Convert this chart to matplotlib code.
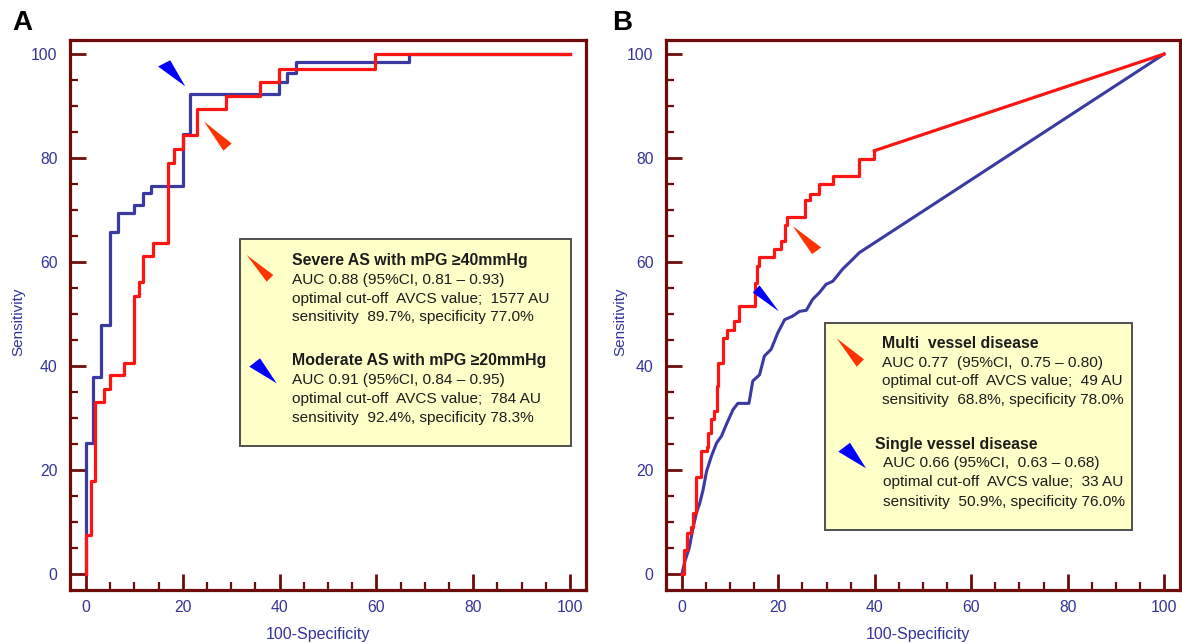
import matplotlib
matplotlib.use("Agg")
import matplotlib.pyplot as plt
from matplotlib.patches import Polygon, Rectangle
from matplotlib.ticker import MultipleLocator

plt.rcParams['font.family'] = ['Liberation Sans', 'DejaVu Sans']

# ---------------- data ----------------
# Panel A: ROC step curves (FPR = 100-Specificity, TPR = Sensitivity)
a_red_fpr = [0, 0, 1.0, 1.9, 3.8, 5.0, 7.9, 9.9, 11.0, 11.8, 13.8, 16.9, 18.2, 20.0,
             22.9, 28.9, 36.0, 39.9, 59.7, 100]
a_red_tpr = [0, 7.5, 17.8, 33.1, 35.6, 38.3, 40.6, 53.5, 56.1, 61.2, 63.7, 79.1, 81.7,
             84.4, 89.4, 92.0, 94.7, 97.1, 100, 100]
a_blue_fpr = [0, 0, 1.5, 3.2, 5.0, 6.7, 9.9, 11.7, 13.4, 20.0, 21.5, 39.9, 41.5, 43.4,
              66.7, 100]
a_blue_tpr = [0, 25.1, 37.9, 47.9, 65.7, 69.5, 71.0, 73.2, 74.7, 84.7, 92.3, 94.7, 96.3,
              98.5, 100, 100]

# Panel B: ROC curves
b_red_fpr = [0, 0.4, 1.0, 1.8, 2.3, 2.9, 4.0, 5.1, 5.4, 6.1, 6.6, 7.3, 7.5, 8.5, 9.4,
             10.9, 11.8, 15.1, 15.6, 16.0, 19.0, 20.6, 21.3, 21.8, 25.6, 26.5, 28.5,
             31.3, 36.8, 39.9]
b_red_tpr = [0, 4.6, 7.8, 9.1, 11.7, 18.7, 23.6, 24.5, 27.1, 29.7, 31.3, 36.1, 40.6,
             45.4, 47.0, 48.6, 51.5, 56.0, 59.2, 60.9, 62.4, 64.0, 67.2, 68.7, 71.9,
             73.0, 75.0, 76.6, 79.8, 81.4]
b_blue_fpr = [0, 0.6, 1.5, 2.3, 3.0, 3.7, 4.4, 5.1, 6.1, 7.2, 8.2, 9.2, 10.6, 11.6, 13.9,
              14.7, 16.1, 17.1, 18.5, 19.9, 21.3, 23.0, 24.4, 25.8, 27.1, 28.5, 29.9,
              31.3, 33.3, 35.4, 36.8, 38.8, 100]
b_blue_tpr = [0, 2.4, 4.9, 8.8, 11.7, 13.6, 16.2, 19.7, 22.6, 25.2, 26.5, 28.7, 31.6,
              32.8, 32.8, 37.1, 38.3, 41.9, 43.2, 46.4, 48.9, 49.6, 50.5, 50.7, 52.8,
              54.1, 55.7, 56.3, 58.6, 60.5, 61.8, 63.0, 100]

ticks = [0, 20, 40, 60, 80, 100]
tick_labels = ['0', '20', '40', '60', '80', '100']

a_lines = [["Severe AS with mPG \u226540mmHg",
            "AUC 0.88 (95%CI, 0.81 \u2013 0.93)",
            "optimal cut-off  AVCS value;  1577 AU",
            "sensitivity  89.7%, specificity 77.0%"],
           ["Moderate AS with mPG \u226520mmHg",
            "AUC 0.91 (95%CI, 0.84 \u2013 0.95)",
            "optimal cut-off  AVCS value;  784 AU",
            "sensitivity  92.4%, specificity 78.3%"]]
b_lines = [["Multi  vessel disease",
            "AUC 0.77  (95%CI,  0.75 \u2013 0.80)",
            "optimal cut-off  AVCS value;  49 AU",
            "sensitivity  68.8%, specificity 78.0%"],
           ["Single vessel disease",
            "AUC 0.66 (95%CI,  0.63 \u2013 0.68)",
            "optimal cut-off  AVCS value;  33 AU",
            "sensitivity  50.9%, specificity 76.0%"]]

# ---------------- style ----------------
W, H = 1182, 643
RED = '#ff1414'
BLUE = '#3a3aa2'
WRED = '#ff3300'
WBLUE = '#0000ff'
SPINE = '#6e0b0b'
NAVY = '#33339a'
TXT = '#1c1c1c'

fig = plt.figure(figsize=(W / 100, H / 100), dpi=100)


def fp(x, y):
    return (x / W, 1 - y / H)


def style(ax):
    ax.set_xlim(-3.3, 103.3)
    ax.set_ylim(-3.1, 102.7)
    for s in ax.spines.values():
        s.set_color(SPINE)
        s.set_linewidth(2.3)
    ax.set_xticks(ticks)
    ax.set_xticklabels(tick_labels)
    ax.set_yticks(ticks)
    ax.set_yticklabels(tick_labels)
    ax.xaxis.set_minor_locator(MultipleLocator(5))
    ax.yaxis.set_minor_locator(MultipleLocator(5))
    ax.tick_params(which='major', direction='in', length=11.5, width=2.0,
                   color=SPINE, labelcolor=NAVY, labelsize=11.3)
    ax.tick_params(which='minor', direction='in', length=5.5, width=1.6, color=SPINE)
    ax.tick_params(axis='y', which='major', pad=9)
    ax.tick_params(axis='x', which='major', pad=7)


axA = fig.add_axes([70 / W, 1 - 590 / H, 516 / W, 550 / H])
axB = fig.add_axes([666 / W, 1 - 590 / H, 514 / W, 550 / H])
for ax in (axA, axB):
    style(ax)

axA.plot(a_blue_fpr, a_blue_tpr, drawstyle='steps-post', color=BLUE, lw=2.3)
axA.plot(a_red_fpr, a_red_tpr, drawstyle='steps-post', color=RED, lw=2.3)

axB.plot(b_blue_fpr, b_blue_tpr, color=BLUE, lw=2.2)
axB.plot(b_red_fpr, b_red_tpr, drawstyle='steps-post', color=RED, lw=2.3)
axB.plot([b_red_fpr[-1], 100], [b_red_tpr[-1], 100], color=RED, lw=2.3)

# wedge pointers inside plots (data coordinates)
axA.add_patch(Polygon([(20.5, 93.8), (14.9, 97.6), (17.4, 98.8)], closed=True,
                      color=WBLUE, lw=0, zorder=5))
axA.add_patch(Polygon([(24.4, 87.0), (28.4, 81.4), (30.1, 82.8)], closed=True,
                      color=WRED, lw=0, zorder=5))
axB.add_patch(Polygon([(23.0, 66.9), (27.0, 61.5), (28.9, 62.8)], closed=True,
                      color=WRED, lw=0, zorder=5))
axB.add_patch(Polygon([(20.1, 50.5), (14.7, 54.1), (16.1, 55.5)], closed=True,
                      color=WBLUE, lw=0, zorder=5))


def box(x0, y0, x1, y1):
    r = Rectangle(fp(x0, y1), (x1 - x0) / W, (y1 - y0) / H, transform=fig.transFigure,
                  facecolor='#ffffc8', edgecolor='#505050', lw=1.4, zorder=10)
    fig.add_artist(r)


def wedge(pts, color):
    p = Polygon([fp(x, y) for x, y in pts], closed=True, transform=fig.transFigure,
                color=color, lw=0, zorder=11)
    fig.add_artist(p)


def block(lines, x_bold, x_txt, ys):
    fig.text(*fp(x_bold, ys[0]), lines[0], fontsize=11.4, fontweight='bold', color=TXT,
             va='center', ha='left', zorder=12)
    for t, y in zip(lines[1:], ys[1:]):
        fig.text(*fp(x_txt, y), t, fontsize=11.1, color=TXT, va='center', ha='left',
                 zorder=12)


# legend box A
box(240, 239, 571, 446)
wedge([(246.7, 255), (266.7, 281.7), (273.3, 275)], WRED)
wedge([(276.7, 383.3), (249.3, 366.7), (260, 358.3)], WBLUE)
block(a_lines[0], 292, 292, [261, 280, 299, 317])
block(a_lines[1], 292, 292, [361, 380, 399, 418])

# legend box B
box(825, 323, 1132, 530)
wedge([(836.7, 338.3), (856.7, 366.7), (864, 359.3)], WRED)
wedge([(866, 468.3), (838.3, 451.7), (850, 442.7)], WBLUE)
block(b_lines[0], 882, 882, [343, 363, 381, 400])
block(b_lines[1], 875, 883, [444, 463, 482, 502])

# axis labels and panel letters
for xl, xc in ((18, 318), (620, 918)):
    fig.text(*fp(xl, 322), 'Sensitivity', rotation=90, fontsize=11, color=NAVY,
             ha='center', va='center')
    fig.text(*fp(xc, 634), '100-Specificity', fontsize=11.5, color=NAVY,
             ha='center', va='center')
fig.text(*fp(22, 23), 'A', fontsize=20, fontweight='bold', color='black',
         ha='center', va='center')
fig.text(*fp(622, 23), 'B', fontsize=20, fontweight='bold', color='black',
         ha='center', va='center')

fig.savefig('out.png', dpi=100)
